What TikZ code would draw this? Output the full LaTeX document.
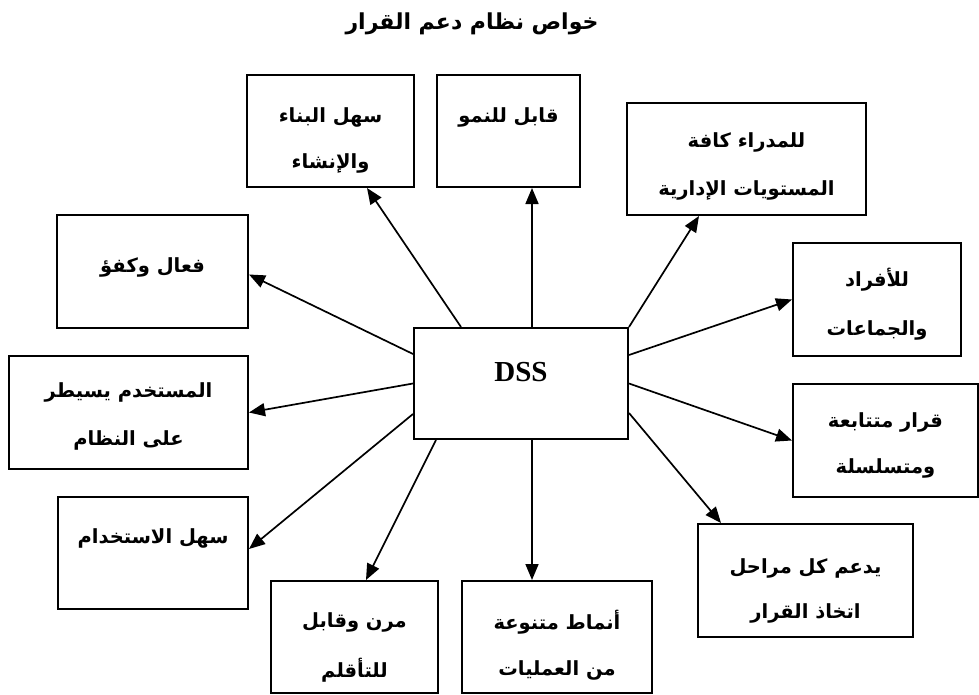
\documentclass[tikz,border=0pt]{standalone}
\usepackage{fontspec}
\TeXXeTstate=1
\newfontfamily\arabicfont[Script=Arabic]{DejaVu Sans}
\newfontfamily\latinserif{Liberation Serif}
\usetikzlibrary{arrows.meta}
\begin{document}
\begin{tikzpicture}[x=1pt,y=-1pt,
  box/.style={draw=black,line width=2pt,inner sep=0pt,fill=white},
  artxt/.style={inner sep=0pt,font=\arabicfont\bfseries\fontsize{19.5}{22}\selectfont},
  titletxt/.style={inner sep=0pt,font=\arabicfont\bfseries\fontsize{22}{26}\selectfont},
  conn/.style={line width=1.7pt,-{Triangle[length=16pt,width=13pt]}}]
\useasboundingbox (0,0) rectangle (979,695);
\fill[white] (0,0) rectangle (979,695);
% title
\node[titletxt] (title) at (472,24) {\beginR خواص نظام دعم القرار\endR};
% boxes
\node[box,minimum width=167pt,minimum height=112pt] (A) at (330.5,131) {};
\node[box,minimum width=143pt,minimum height=112pt] (B) at (508.5,131) {};
\node[box,minimum width=239pt,minimum height=112pt] (C) at (746.5,159) {};
\node[box,minimum width=191pt,minimum height=113pt] (D) at (152.5,271.5) {};
\node[box,minimum width=168pt,minimum height=113pt] (E) at (877,299.5) {};
\node[box,minimum width=214pt,minimum height=111pt] (dss) at (521,383.5) {};
\node[box,minimum width=239pt,minimum height=113pt] (F) at (128.5,412.5) {};
\node[box,minimum width=185pt,minimum height=113pt] (G) at (885.5,440.5) {};
\node[box,minimum width=190pt,minimum height=112pt] (H) at (153,553) {};
\node[box,minimum width=215pt,minimum height=113pt] (I) at (805.5,580.5) {};
\node[box,minimum width=167pt,minimum height=112pt] (J) at (354.5,637) {};
\node[box,minimum width=190pt,minimum height=112pt] (K) at (557,637) {};
% texts
\node[inner sep=0pt,font=\latinserif\bfseries\fontsize{29}{32}\selectfont] (tdss) at (521,372) {DSS};
\node[artxt] (tA1) at (330.5,117) {\beginR سهل البناء\endR};
\node[artxt] (tA2) at (330.5,163) {\beginR والإنشاء\endR};
\node[artxt] (tB1) at (508.5,117) {\beginR قابل للنمو\endR};
\node[artxt] (tC1) at (746.5,142) {\beginR للمدراء كافة\endR};
\node[artxt] (tC2) at (746.5,190) {\beginR المستويات الإدارية\endR};
\node[artxt] (tD1) at (152.5,267) {\beginR فعال وكفؤ\endR};
\node[artxt] (tE1) at (877,280) {\beginR للأفراد\endR};
\node[artxt] (tE2) at (877,330) {\beginR والجماعات\endR};
\node[artxt] (tF1) at (128.5,392) {\beginR المستخدم يسيطر\endR};
\node[artxt] (tF2) at (128.5,440) {\beginR على النظام\endR};
\node[artxt] (tG1) at (885.5,422) {\beginR قرار متتابعة\endR};
\node[artxt] (tG2) at (885.5,468) {\beginR ومتسلسلة\endR};
\node[artxt] (tH1) at (153,538) {\beginR سهل الاستخدام\endR};
\node[artxt] (tI1) at (805.5,568) {\beginR يدعم كل مراحل\endR};
\node[artxt] (tI2) at (805.5,613) {\beginR اتخاذ القرار\endR};
\node[artxt] (tJ1) at (354.5,622) {\beginR مرن وقابل\endR};
\node[artxt] (tJ2) at (354.5,670) {\beginR للتأقلم\endR};
\node[artxt] (tK1) at (557,622) {\beginR أنماط متنوعة\endR};
\node[artxt] (tK2) at (557,670) {\beginR من العمليات\endR};
% connectors
\draw[conn] ([xshift=48pt]dss.north west) -- ([xshift=121pt]A.south west);
\draw[conn] ([xshift=119pt]dss.north west) -- ([xshift=96pt]B.south west);
\draw[conn] (dss.north east) -- ([xshift=73pt]C.south west);
\draw[conn] ([yshift=-28pt]dss.north east) -- (E.west);
\draw[conn] (dss.east) -- (G.west);
\draw[conn] ([yshift=27pt]dss.south east) -- ([xshift=24pt]I.north west);
\draw[conn] ([xshift=119pt]dss.south west) -- ([xshift=71pt]K.north west);
\draw[conn] ([xshift=23pt]dss.south west) -- ([xshift=96pt]J.north west);
\draw[conn] ([yshift=26pt]dss.south west) -- ([yshift=4pt]H.east);
\draw[conn] (dss.west) -- (F.east);
\draw[conn] ([yshift=-27pt]dss.north west) -- ([yshift=-3pt]D.east);
\end{tikzpicture}
\end{document}
